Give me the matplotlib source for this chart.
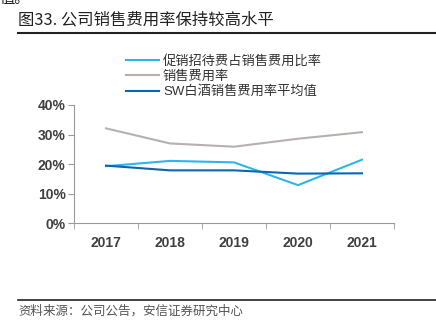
import matplotlib
matplotlib.use("Agg")
import matplotlib.pyplot as plt
from matplotlib.ticker import FuncFormatter, FixedLocator
from matplotlib.lines import Line2D

plt.rcParams['font.family'] = ['Liberation Sans', 'Noto Sans CJK SC', 'DejaVu Sans']

years = ["2017", "2018", "2019", "2020", "2021"]
promo_share = [19.3, 21.1, 20.6, 12.9, 21.5]
sales_rate = [32.1, 27.0, 25.9, 28.6, 30.8]
sw_avg = [19.5, 17.9, 17.9, 16.8, 16.9]
labels = ["促销招待费占销售费用比率", "销售费用率", "SW白酒销售费用率平均值"]
title = "图33. 公司销售费用率保持较高水平"
source = "资料来源：公司公告，安信证券研究中心"

W, H = 436, 328
fig = plt.figure(figsize=(W / 100, H / 100), dpi=100)
ax = fig.add_axes([74 / W, 1 - 223.3 / H, (394 - 74) / W, (223.3 - 105) / H])

x = list(range(len(years)))
ax.plot(x, promo_share, color="#2EB5EA", lw=1.5, label=labels[0])
ax.plot(x, sales_rate, color="#B8AFAF", lw=1.5, label=labels[1])
ax.plot(x, sw_avg, color="#0B66B0", lw=1.5, label=labels[2])

ax.set_xlim(-0.5, len(years) - 0.5)
ax.set_ylim(0, 40)
ax.set_yticks([0, 10, 20, 30, 40])
ax.yaxis.set_major_formatter(FuncFormatter(lambda v, p: f"{int(v)}%"))
ax.set_xticks(x)
ax.set_xticklabels(years)
ax.xaxis.set_minor_locator(FixedLocator([i - 0.5 for i in range(len(years) + 1)]))
ax.tick_params(axis='x', which='major', length=0, pad=9, labelsize=10, labelcolor="#404040")
ax.tick_params(axis='x', which='minor', length=4, color="#999999", direction='out')
ax.tick_params(axis='y', length=4, color="#999999", labelsize=10, labelcolor="#404040", pad=2)
for s in ["top", "right"]:
    ax.spines[s].set_visible(False)
for s in ["left", "bottom"]:
    ax.spines[s].set_color("#999999")
    ax.spines[s].set_linewidth(0.8)
for t in ax.get_xticklabels() + ax.get_yticklabels():
    t.set_fontweight('bold')

leg = fig.legend(loc='upper left', bbox_to_anchor=(126 / W, 1 - 55 / H),
                 bbox_transform=fig.transFigure, frameon=False, fontsize=9.5,
                 handlelength=2.5, handletextpad=0.3, labelspacing=0.2,
                 borderpad=0, borderaxespad=0)
for t in leg.get_texts():
    t.set_color("#333333")

fig.text(18 / W, 1 - 20 / H, title, fontsize=11.8, va='center', ha='left',
         color="#222222", family=['Noto Sans CJK SC', 'DejaVu Sans'])
fig.text(0, 1 - 7 / H, "值。", fontsize=11, va='bottom', ha='left',
         color="#222222", family=['Noto Sans CJK SC', 'DejaVu Sans'])
fig.add_artist(Line2D([18 / W, 1], [1 - 32.5 / H, 1 - 32.5 / H], transform=fig.transFigure,
                      color="#222222", lw=1.5))
fig.add_artist(Line2D([18 / W, 1], [1 - 300 / H, 1 - 300 / H], transform=fig.transFigure,
                      color="#222222", lw=1.2))
fig.text(18 / W, 1 - 311 / H, source, fontsize=9, va='center', ha='left',
         color="#555555", family=['Noto Sans CJK SC', 'DejaVu Sans'])

fig.savefig("out.png", dpi=100)
